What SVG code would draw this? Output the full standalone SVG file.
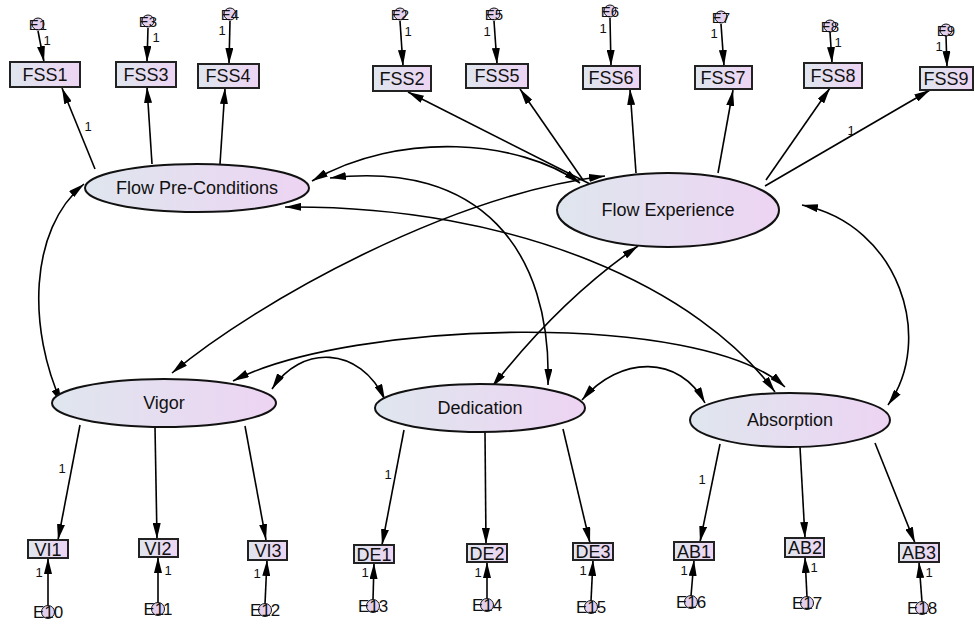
<svg xmlns="http://www.w3.org/2000/svg" width="975" height="625" viewBox="0 0 975 625">
<defs>
<linearGradient id="g" x1="0" y1="0" x2="1" y2="0">
<stop offset="0" stop-color="#dfe6ee"/>
<stop offset="1" stop-color="#edd4f3"/>
</linearGradient>
<marker id="ah" viewBox="0 0 16 8" refX="16" refY="4" markerWidth="16" markerHeight="8" markerUnits="userSpaceOnUse" orient="auto-start-reverse">
<path d="M0,0 L16,4 L0,8 z" fill="#000"/>
</marker>
</defs>
<style>
text{font-family:"Liberation Sans",Arial,sans-serif;fill:#111;}
.box{fill:url(#g);stroke:#222;stroke-width:2;}
.ell{fill:url(#g);stroke:#111;stroke-width:2;}
.err{fill:#e2d0ee;stroke:#111;stroke-width:1;}
.bl{font-size:18px;text-anchor:middle;}
.sl{font-size:18px;text-anchor:middle;}
.el{font-size:18px;text-anchor:middle;}
.et{font-size:15px;text-anchor:middle;}
.eb{font-size:17px;text-anchor:middle;}
.one{font-size:13px;text-anchor:middle;}
.ln{fill:none;stroke:#000;stroke-width:1.6;marker-end:url(#ah);}
.cv{fill:none;stroke:#000;stroke-width:1.6;marker-end:url(#ah);marker-start:url(#ah);}
</style>
<rect width="975" height="625" fill="#fff"/>

<g id="connectors">
<path class="ln" d="M95,169 L62,88"/>
<path class="ln" d="M152,164 L147,87"/>
<path class="ln" d="M220,164 L225,88"/>
<path class="ln" d="M590,184 L408,92"/>
<path class="ln" d="M583,180 L520,89"/>
<path class="ln" d="M636,173 L630,89"/>
<path class="ln" d="M718,173 L733,90"/>
<path class="ln" d="M766,180 L830,88"/>
<path class="ln" d="M765,186 L930,90"/>
<path class="ln" d="M80,425 L58,540"/>
<path class="ln" d="M155,427 L157,539"/>
<path class="ln" d="M245,426 L266,540"/>
<path class="ln" d="M404,430 L382,545"/>
<path class="ln" d="M485,432 L486,544"/>
<path class="ln" d="M563,429 L590,543"/>
<path class="ln" d="M720,444 L700,542"/>
<path class="ln" d="M800,447 L805,538"/>
<path class="ln" d="M875,443 L915,543"/>

<path class="ln" d="M38,31 L44,62"/>
<path class="ln" d="M148,28 L147,62"/>
<path class="ln" d="M230,21 L229,64"/>
<path class="ln" d="M400,21 L403,66"/>
<path class="ln" d="M494,21 L497,64"/>
<path class="ln" d="M610,18 L611,66"/>
<path class="ln" d="M721,24 L724,66"/>
<path class="ln" d="M830,32 L832,63"/>
<path class="ln" d="M946,36 L947,67"/>

<path class="ln" d="M48,606 L48,558"/>
<path class="ln" d="M158,603 L158,557"/>
<path class="ln" d="M265,604 L267,560"/>
<path class="ln" d="M373,600 L374,563"/>
<path class="ln" d="M487,599 L487,562"/>
<path class="ln" d="M591,601 L593,560"/>
<path class="ln" d="M691,596 L694,560"/>
<path class="ln" d="M807,597 L805,557"/>
<path class="ln" d="M922,602 L919,562"/>

<path class="cv" d="M62,404 C28,330 28,230 84,184"/>
<path class="cv" d="M312,181 C400,130 520,140 580,183"/>
<path class="cv" d="M330,178 C480,160 552,250 548,385"/>
<path class="cv" d="M285,207 C520,205 700,290 775,392"/>
<path class="cv" d="M605,176 C450,195 260,300 172,373"/>
<path class="cv" d="M638,246 Q560,300 492,387"/>
<path class="cv" d="M802,205 C900,225 935,340 888,405"/>
<path class="cv" d="M272,389 C300,345 360,345 385,400"/>
<path class="cv" d="M233,381 C350,320 700,310 785,387"/>
<path class="cv" d="M582,400 C620,355 680,355 705,403"/>

<text class="one" x="88" y="131">1</text>
<text class="one" x="851" y="135">1</text>
<text class="one" x="62" y="473">1</text>
<text class="one" x="388" y="479">1</text>
<text class="one" x="702" y="484">1</text>
</g>

<g id="FPC"><ellipse class="ell" cx="197" cy="188" rx="112" ry="24"/><text class="el" x="197" y="194">Flow Pre-Conditions</text></g>
<g id="FE"><ellipse class="ell" cx="668" cy="210" rx="111" ry="37"/><text class="el" x="668" y="216">Flow Experience</text></g>
<g id="Vigor"><ellipse class="ell" cx="164" cy="403" rx="112" ry="24"/><text class="el" x="164" y="409">Vigor</text></g>
<g id="Dedication"><ellipse class="ell" cx="480" cy="408" rx="105" ry="24"/><text class="el" x="480" y="414">Dedication</text></g>
<g id="Absorption"><ellipse class="ell" cx="790" cy="420" rx="100" ry="27"/><text class="el" x="790" y="426">Absorption</text></g>

<g id="FSS1"><rect class="box" x="10" y="62" width="70" height="25"/><text class="bl" x="45" y="81">FSS1</text></g>
<g id="FSS3"><rect class="box" x="116" y="62" width="60" height="25"/><text class="bl" x="146" y="81">FSS3</text></g>
<g id="FSS4"><rect class="box" x="198" y="64" width="61" height="24"/><text class="bl" x="228" y="82">FSS4</text></g>
<g id="FSS2"><rect class="box" x="373" y="66" width="58" height="25"/><text class="bl" x="402" y="85">FSS2</text></g>
<g id="FSS5"><rect class="box" x="466" y="64" width="62" height="24"/><text class="bl" x="497" y="82">FSS5</text></g>
<g id="FSS6"><rect class="box" x="583" y="66" width="57" height="23"/><text class="bl" x="611" y="84">FSS6</text></g>
<g id="FSS7"><rect class="box" x="695" y="66" width="57" height="23"/><text class="bl" x="723" y="84">FSS7</text></g>
<g id="FSS8"><rect class="box" x="804" y="63" width="58" height="25"/><text class="bl" x="833" y="82">FSS8</text></g>
<g id="FSS9"><rect class="box" x="920" y="67" width="53" height="23"/><text class="bl" x="946" y="85">FSS9</text></g>

<g id="VI1"><rect class="box" x="28" y="540" width="40" height="18"/><text class="sl" x="48" y="556">VI1</text></g>
<g id="VI2"><rect class="box" x="139" y="539" width="39" height="18"/><text class="sl" x="158" y="555">VI2</text></g>
<g id="VI3"><rect class="box" x="248" y="541" width="39" height="19"/><text class="sl" x="268" y="557">VI3</text></g>
<g id="DE1"><rect class="box" x="354" y="545" width="40" height="18"/><text class="sl" x="374" y="561">DE1</text></g>
<g id="DE2"><rect class="box" x="467" y="544" width="40" height="18"/><text class="sl" x="487" y="560">DE2</text></g>
<g id="DE3"><rect class="box" x="573" y="543" width="40" height="17"/><text class="sl" x="593" y="558">DE3</text></g>
<g id="AB1"><rect class="box" x="674" y="542" width="40" height="18"/><text class="sl" x="694" y="558">AB1</text></g>
<g id="AB2"><rect class="box" x="785" y="538" width="39" height="19"/><text class="sl" x="805" y="554">AB2</text></g>
<g id="AB3"><rect class="box" x="899" y="543" width="40" height="19"/><text class="sl" x="919" y="559">AB3</text></g>

<g id="E1"><circle class="err" cx="38" cy="24" r="6"/><text class="et" x="38" y="30">E1</text><text class="one" x="47" y="45">1</text></g>
<g id="E3"><circle class="err" cx="148" cy="21" r="6"/><text class="et" x="148" y="27">E3</text><text class="one" x="156" y="42">1</text></g>
<g id="E4"><circle class="err" cx="230" cy="14" r="6"/><text class="et" x="230" y="20">E4</text><text class="one" x="222" y="35">1</text></g>
<g id="E2"><circle class="err" cx="400" cy="14" r="6"/><text class="et" x="400" y="20">E2</text><text class="one" x="408" y="36">1</text></g>
<g id="E5"><circle class="err" cx="494" cy="14" r="6"/><text class="et" x="494" y="20">E5</text><text class="one" x="487" y="36">1</text></g>
<g id="E6"><circle class="err" cx="610" cy="11" r="6"/><text class="et" x="610" y="17">E6</text><text class="one" x="603" y="33">1</text></g>
<g id="E7"><circle class="err" cx="721" cy="17" r="6"/><text class="et" x="721" y="23">E7</text><text class="one" x="714" y="38">1</text></g>
<g id="E8"><circle class="err" cx="830" cy="26" r="6"/><text class="et" x="830" y="32">E8</text><text class="one" x="838" y="47">1</text></g>
<g id="E9"><circle class="err" cx="946" cy="30" r="6"/><text class="et" x="946" y="36">E9</text><text class="one" x="939" y="51">1</text></g>

<g id="E10"><circle class="err" cx="48" cy="612" r="6.5"/><text class="eb" x="48" y="618">E10</text><text class="one" x="39" y="577">1</text></g>
<g id="E11"><circle class="err" cx="158" cy="609" r="6.5"/><text class="eb" x="158" y="615">E11</text><text class="one" x="168" y="575">1</text></g>
<g id="E12"><circle class="err" cx="265" cy="610" r="6.5"/><text class="eb" x="265" y="616">E12</text><text class="one" x="257" y="578">1</text></g>
<g id="E13"><circle class="err" cx="373" cy="606" r="6.5"/><text class="eb" x="373" y="612">E13</text><text class="one" x="365" y="577">1</text></g>
<g id="E14"><circle class="err" cx="487" cy="605" r="6.5"/><text class="eb" x="487" y="611">E14</text><text class="one" x="478" y="577">1</text></g>
<g id="E15"><circle class="err" cx="591" cy="607" r="6.5"/><text class="eb" x="591" y="613">E15</text><text class="one" x="583" y="575">1</text></g>
<g id="E16"><circle class="err" cx="691" cy="602" r="6.5"/><text class="eb" x="691" y="608">E16</text><text class="one" x="684" y="575">1</text></g>
<g id="E17"><circle class="err" cx="807" cy="603" r="6.5"/><text class="eb" x="807" y="609">E17</text><text class="one" x="814" y="572">1</text></g>
<g id="E18"><circle class="err" cx="922" cy="608" r="6.5"/><text class="eb" x="922" y="614">E18</text><text class="one" x="929" y="577">1</text></g>
</svg>
